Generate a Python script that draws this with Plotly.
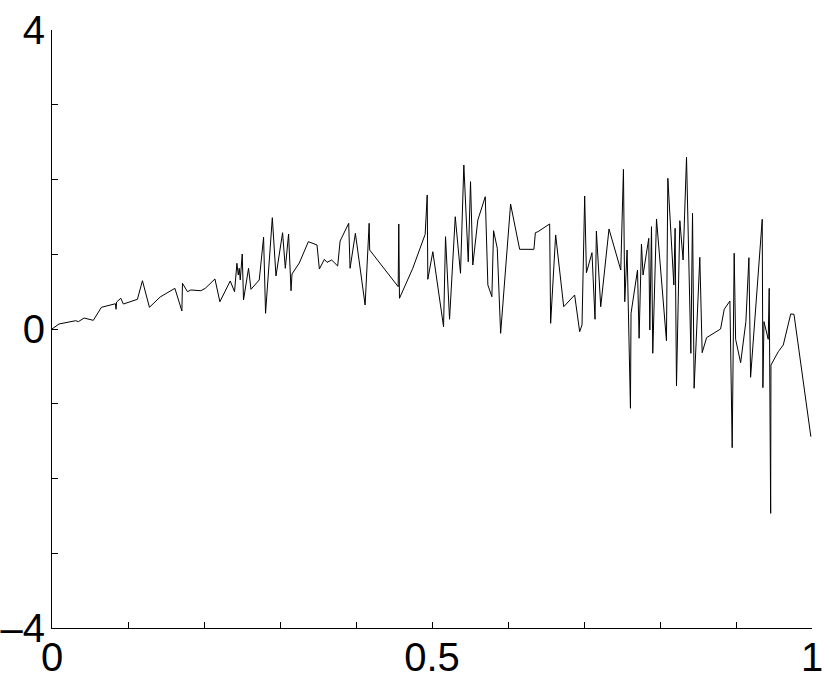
import plotly.graph_objects as go

# points
x = [0.0, 0.0092, 0.0312, 0.0347, 0.0422, 0.0544, 0.0650, 0.0834, 0.0843, 0.0850,
     0.0905, 0.0939, 0.1124, 0.1190, 0.1282, 0.1423, 0.1617, 0.1709, 0.1717, 0.1783,
     0.1827, 0.1959, 0.2016, 0.2144, 0.2209, 0.2345, 0.2402, 0.2433, 0.2451, 0.2464,
     0.2477, 0.2503, 0.2520, 0.2586, 0.2618, 0.2727, 0.2784, 0.2810, 0.2899, 0.2947,
     0.3034, 0.3070, 0.3113, 0.3145, 0.3158, 0.3254, 0.3373, 0.3487, 0.3518, 0.3584,
     0.3619, 0.3680, 0.3759, 0.3791, 0.3904, 0.3922, 0.3992, 0.4120, 0.4173, 0.4180,
     0.4555, 0.4563, 0.4572, 0.4747, 0.4910, 0.4937, 0.4945, 0.5011, 0.5152, 0.5178,
     0.5231, 0.5306, 0.5375, 0.5419, 0.5477, 0.5490, 0.5507, 0.5537, 0.5603, 0.5701,
     0.5735, 0.5788, 0.5810, 0.5859, 0.5903, 0.6034, 0.6153, 0.6341, 0.6360, 0.6394,
     0.6548, 0.6561, 0.6627, 0.6733, 0.6877, 0.6943, 0.6974, 0.7009, 0.7032, 0.7105,
     0.7145, 0.7163, 0.7220, 0.7329, 0.7484, 0.7519, 0.7536, 0.7567, 0.7611, 0.7619,
     0.7704, 0.7725, 0.7756, 0.7777, 0.7852, 0.7866, 0.7888, 0.7905, 0.7954, 0.8085,
     0.8103, 0.8182, 0.8199, 0.8217, 0.8261, 0.8304, 0.8349, 0.8406, 0.8428, 0.8449,
     0.8524, 0.8555, 0.8613, 0.8797, 0.8845, 0.8920, 0.8950, 0.8976, 0.8995, 0.9061,
     0.9130, 0.9170, 0.9192, 0.9345, 0.9354, 0.9368, 0.9424, 0.9437, 0.9456, 0.9460,
     0.9556, 0.9622, 0.9720, 0.9763, 0.9985]
y = [0.0, 0.067, 0.111, 0.098, 0.147, 0.116, 0.290, 0.338, 0.264, 0.361,
     0.411, 0.334, 0.397, 0.646, 0.290, 0.428, 0.544, 0.241, 0.611, 0.499,
     0.522, 0.512, 0.544, 0.669, 0.365, 0.642, 0.499, 0.879, 0.722, 0.812,
     0.656, 1.003, 0.388, 0.812, 0.531, 0.656, 1.227, 0.210, 1.489, 0.709,
     1.288, 0.812, 1.271, 0.512, 0.736, 0.883, 1.168, 1.124, 0.803, 0.932,
     0.892, 0.923, 0.843, 1.177, 1.414, 0.812, 1.280, 0.321, 1.414, 1.057,
     0.566, 1.405, 0.411, 0.812, 1.267, 1.793, 0.665, 1.034, 0.031, 1.235,
     0.130, 1.502, 0.745, 2.194, 0.900, 1.435, 1.971, 0.856, 1.458, 1.770,
     0.589, 0.432, 1.315, 1.080, -0.058, 1.672, 1.066, 1.066, 1.288, 1.302,
     1.405, 0.076, 1.258, 0.298, 0.455, -0.036, 0.054, 1.779, 0.753, 1.021,
     0.130, 1.311, 0.298, 1.338, 0.789, 2.136, 0.365, 1.057, -1.061, 0.210,
     0.789, -0.124, 1.137, 0.722, 1.213, -0.013, 1.369, -0.325, 1.472, -0.157,
     2.016, 0.589, 1.347, -0.763, 1.449, 0.923, 2.297, -0.325, 1.548, -0.793,
     0.959, -0.317, -0.116, 0.0, 0.264, 0.375, -1.588, 1.013, -0.138, -0.451,
     0.098, 0.954, -0.646, 1.468, -0.785, 0.098, -0.138, 0.544, -2.466, -0.482,
     -0.304, -0.214, 0.201, 0.197, -1.441]

x_ticks = [0, 0.1, 0.2, 0.3, 0.4, 0.5, 0.6, 0.7, 0.8, 0.9, 1]
x_labels = ['0', '', '', '', '', '0.5', '', '', '', '', '1']
y_ticks = [-4, -3, -2, -1, 0, 1, 2, 3, 4]
y_labels = ['\u20134', '', '', '', '0', '', '', '', '4']

fig = go.Figure(go.Scatter(x=x, y=y, mode='lines',
                           line=dict(color='black', width=1)))

axis_style = dict(showgrid=False, zeroline=False, showline=True, automargin=False,
                  linecolor='black', linewidth=1, ticks='inside',
                  ticklen=6, tickcolor='black', tickwidth=1,
                  tickfont=dict(family='Liberation Sans, Arial', size=40, color='black'))

# body keeps its 8px top margin, left margin removed below so "-4" fits
fig.update_layout(
    width=830, height=682,
    margin=dict(l=52, r=18, t=22, b=62),
    paper_bgcolor='white', plot_bgcolor='white',
    showlegend=False,
    xaxis=dict(range=[0, 1], tickvals=x_ticks, ticktext=x_labels,
               ticklabelstandoff=-6, **axis_style),
    yaxis=dict(range=[-4, 4], tickvals=y_ticks, ticktext=y_labels,
               ticklabelstandoff=-2, **axis_style),
)

fig.write_html("out.html", post_script="document.body.style.marginLeft = '0px';")
